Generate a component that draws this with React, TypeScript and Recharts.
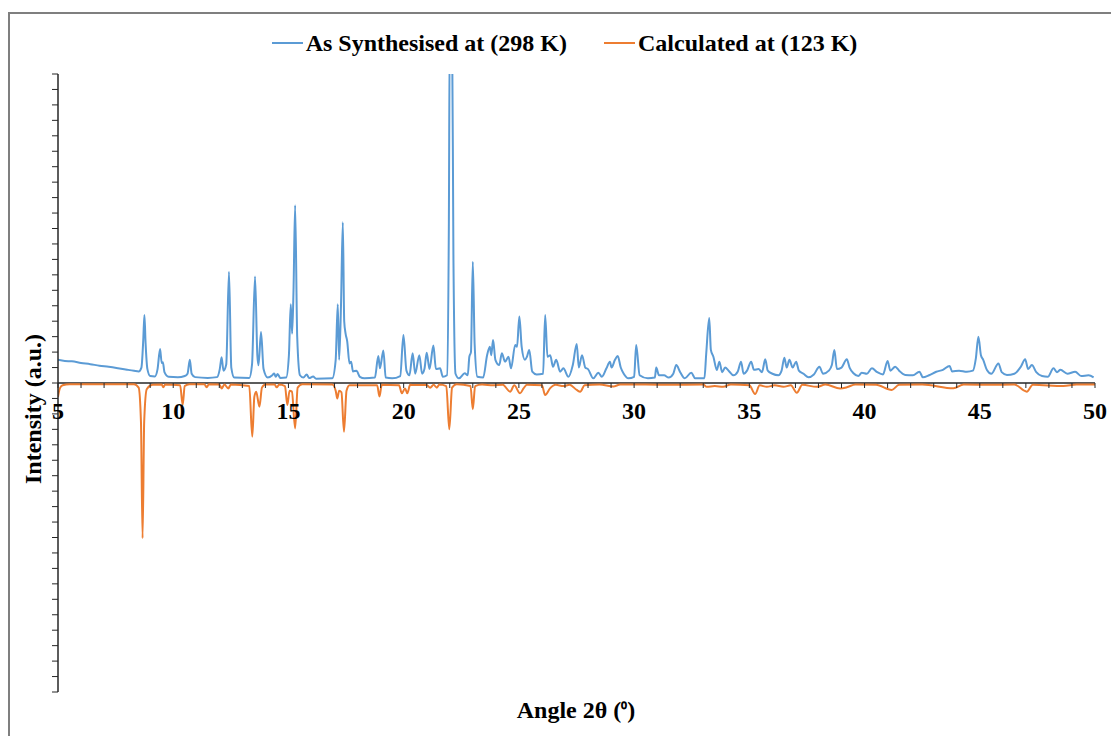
import { LineChart, Line, XAxis, YAxis, ReferenceLine, Legend } from 'recharts';

// As synthesised pattern (298 K)
const synthAngle = [
  5.0, 5.3, 5.6, 6.0, 6.4, 6.8, 7.2, 7.6, 8.0, 8.3, 8.5, 8.62, 8.7, 8.75, 8.8, 8.88, 9.0, 9.2, 9.32, 9.43,
  9.5, 9.55, 9.62, 9.8, 10.2, 10.5, 10.62, 10.72, 10.8, 10.95, 11.5, 11.9, 12.02, 12.1, 12.18, 12.3, 12.42, 12.52, 12.65, 13.3,
  13.42, 13.55, 13.65, 13.7, 13.81, 13.92, 14.1, 14.3, 14.38, 14.45, 14.53, 14.65, 14.9, 15.02, 15.1, 15.16, 15.22, 15.29, 15.38, 15.5,
  15.65, 15.79, 15.9, 16.07, 16.2, 16.9, 17.05, 17.14, 17.2, 17.28, 17.36, 17.42, 17.48, 17.55, 17.65, 17.72, 17.8, 17.95, 18.1, 18.3,
  18.75, 18.9, 18.97, 19.12, 19.22, 19.5, 19.85, 19.99, 20.12, 20.25, 20.39, 20.5, 20.68, 20.8, 20.9, 21.0, 21.12, 21.29, 21.4, 21.58,
  21.7, 21.88, 21.96, 22.0, 22.1, 22.16, 22.25, 22.4, 22.65, 22.78, 22.85, 22.92, 23.0, 23.08, 23.2, 23.45, 23.62, 23.74, 23.8, 23.88,
  23.98, 24.15, 24.26, 24.4, 24.55, 24.66, 24.84, 24.92, 25.02, 25.12, 25.26, 25.35, 25.45, 25.58, 25.77, 26.05, 26.14, 26.24, 26.36, 26.48,
  26.62, 26.79, 26.93, 27.15, 27.34, 27.51, 27.6, 27.74, 27.88, 28.0, 28.23, 28.45, 28.6, 28.8, 28.95, 29.02, 29.17, 29.29, 29.42, 29.55,
  29.75, 30.0, 30.09, 30.24, 30.6, 30.9, 30.96, 31.08, 31.3, 31.5, 31.7, 31.83, 32.0, 32.2, 32.48, 32.65, 33.05, 33.13, 33.26, 33.33,
  33.44, 33.59, 33.7, 33.82, 33.95, 34.1, 34.31, 34.5, 34.64, 34.75, 34.9, 35.08, 35.2, 35.4, 35.55, 35.69, 35.8, 36.0, 36.26, 36.4,
  36.52, 36.62, 36.74, 36.88, 37.03, 37.15, 37.35, 37.57, 37.8, 38.04, 38.2, 38.45, 38.58, 38.69, 38.8, 39.0, 39.23, 39.35, 39.52, 39.73,
  39.88, 40.1, 40.32, 40.55, 40.8, 41.0, 41.12, 41.33, 41.5, 41.76, 42.1, 42.38, 42.53, 42.8, 43.11, 43.4, 43.69, 43.8, 44.1, 44.44,
  44.7, 44.83, 44.94, 45.05, 45.15, 45.31, 45.5, 45.81, 45.95, 46.18, 46.5, 46.78, 46.97, 47.1, 47.26, 47.45, 47.7, 47.95, 48.2, 48.35,
  48.5, 48.8, 49.14, 49.4, 49.72, 49.94,
];
const synthIntensity = [
  1.5, 1.42, 1.4, 1.3, 1.22, 1.12, 1.05, 0.96, 0.86, 0.79, 0.75, 1.0, 2.8, 4.4, 2.6, 0.9, 0.45, 0.42, 0.9, 2.2,
  1.3, 1.35, 0.7, 0.4, 0.37, 0.45, 0.6, 1.5, 0.6, 0.38, 0.33, 0.38, 0.9, 1.66, 0.8, 1.2, 7.2, 1.0, 0.35, 0.32,
  1.2, 6.9, 1.8, 1.15, 3.3, 0.9, 0.35, 0.5, 0.62, 0.4, 0.58, 0.33, 0.35, 1.8, 5.1, 3.2, 6.0, 11.5, 3.0, 0.5,
  0.35, 0.55, 0.32, 0.42, 0.28, 0.3, 1.5, 5.1, 1.5, 5.0, 10.4, 4.0, 3.2, 2.7, 1.27, 1.38, 0.75, 0.8, 0.4, 0.3,
  0.35, 1.75, 0.95, 2.1, 0.35, 0.3, 0.45, 3.1, 0.8, 0.5, 1.92, 0.6, 1.8, 0.6, 0.9, 1.95, 0.9, 2.42, 0.9, 0.95,
  0.4, 0.5, 10.0, 23, 23, 8.0, 0.6, 0.3, 0.63, 0.5, 1.7, 2.0, 7.85, 2.5, 0.4, 0.35, 1.8, 2.35, 1.8, 2.78,
  1.5, 1.16, 1.92, 1.38, 1.7, 0.95, 2.46, 2.35, 4.3, 2.35, 1.5, 1.7, 2.14, 0.73, 0.55, 0.6, 4.4, 1.7, 1.8, 1.05,
  1.5, 0.73, 0.95, 0.4, 1.16, 2.52, 1.0, 1.8, 1.0, 0.9, 0.3, 0.67, 0.4, 0.95, 1.38, 1.0, 1.5, 1.75, 1.0, 0.6,
  0.3, 0.4, 2.46, 0.5, 0.3, 0.35, 1.0, 0.5, 0.5, 0.35, 0.6, 1.16, 0.7, 0.3, 0.67, 0.3, 0.3, 1.92, 4.2, 2.14,
  1.7, 0.84, 1.38, 0.7, 1.0, 0.8, 0.5, 0.75, 1.38, 0.6, 0.8, 1.38, 0.85, 0.9, 0.7, 1.53, 0.8, 0.6, 0.5, 0.8,
  1.64, 1.0, 1.5, 1.0, 1.38, 0.8, 0.6, 0.37, 0.55, 1.05, 0.6, 0.8, 1.16, 2.14, 0.9, 1.0, 1.53, 1.0, 0.63, 0.45,
  0.67, 0.6, 0.95, 0.7, 0.55, 1.42, 0.8, 1.05, 0.8, 0.52, 0.5, 0.73, 0.37, 0.5, 0.73, 0.85, 1.1, 0.75, 0.8, 0.73,
  0.8, 1.6, 3.0, 1.8, 1.5, 0.84, 0.6, 1.27, 0.7, 0.52, 0.6, 1.05, 1.53, 0.9, 1.16, 0.7, 0.45, 0.4, 0.95, 0.7,
  0.85, 0.6, 0.73, 0.45, 0.5, 0.37,
];

// Calculated pattern (123 K), drawn inverted below zero
const calcAngle = [
  5.0, 5.08, 5.2, 5.5, 8.3, 8.5, 8.6, 8.67, 8.74, 8.85, 9.1, 9.5, 9.57, 9.65, 10.3, 10.41, 10.5, 10.7, 11.35, 11.45,
  11.55, 12.0, 12.1, 12.22, 12.39, 12.5, 13.3, 13.43, 13.52, 13.6, 13.74, 13.85, 14.0, 14.4, 14.49, 14.6, 14.85, 14.95, 15.05, 15.15,
  15.29, 15.4, 15.6, 16.9, 17.05, 17.12, 17.2, 17.3, 17.41, 17.52, 17.65, 18.85, 18.95, 19.05, 19.8, 19.92, 20.06, 20.16, 20.28, 20.5,
  21.0, 21.15, 21.3, 21.44, 21.55, 21.85, 21.98, 22.1, 22.3, 22.9, 23.0, 23.1, 23.4, 23.89, 24.3, 24.62, 24.8, 25.05, 25.2, 25.35,
  26.0, 26.14, 26.35, 26.6, 26.93, 27.2, 27.51, 27.66, 27.85, 28.5, 29.1, 29.4, 30.5, 31.5, 33.0, 33.15, 33.5, 33.86, 34.2, 35.0,
  35.25, 35.45, 35.76, 36.1, 36.48, 36.8, 37.06, 37.3, 37.93, 38.3, 38.94, 39.23, 39.6, 40.5, 41.18, 41.5, 42.5, 43.86, 44.3, 45.5,
  46.5, 47.04, 47.3, 48.63, 49.2, 50.0,
];
const calcIntensity = [
  -0.9, -0.35, -0.15, -0.08, -0.08, -0.3, -2.5, -10.05, -2.5, -0.4, -0.12, -0.1, -0.28, -0.1, -0.15, -1.42, -0.2, -0.08, -0.08, -0.28,
  -0.08, -0.1, -0.35, -0.1, -0.35, -0.1, -0.2, -3.47, -0.9, -0.56, -1.53, -0.3, -0.1, -0.1, -0.28, -0.1, -0.2, -1.42, -0.5, -0.56,
  -2.94, -0.3, -0.08, -0.1, -0.5, -1.0, -0.5, -0.6, -3.15, -0.5, -0.15, -0.15, -0.88, -0.12, -0.15, -0.67, -0.35, -0.67, -0.12, -0.13,
  -0.13, -0.3, -0.12, -0.3, -0.1, -0.2, -3.0, -0.3, -0.08, -0.2, -1.7, -0.2, -0.1, -0.15, -0.12, -0.56, -0.15, -0.67, -0.35, -0.12,
  -0.15, -0.78, -0.35, -0.12, -0.2, -0.12, -0.45, -0.56, -0.15, -0.1, -0.22, -0.1, -0.1, -0.12, -0.1, -0.25, -0.2, -0.25, -0.1, -0.15,
  -0.72, -0.15, -0.25, -0.15, -0.25, -0.15, -0.63, -0.12, -0.25, -0.1, -0.35, -0.28, -0.1, -0.12, -0.45, -0.12, -0.1, -0.34, -0.1, -0.12,
  -0.1, -0.56, -0.12, -0.2, -0.1, -0.1,
];

const xTicks = Array.from({ length: 46 }, (_, i) => 5 + i);
const yTicks = Array.from({ length: 41 }, (_, i) => -20 + i);

const BLUE = '#5B9BD5';
const ORANGE = '#ED7D31';
const AXIS = '#262626';
const FONT = '"Liberation Serif", "Times New Roman", serif';
const FONT_SIZE = 24;

const WIDTH = 1111;
const HEIGHT = 736;
const PLOT_TOP = 74;
const PLOT_BOTTOM = 692;
// the category axis sits at zero, half way up the plot
const ZERO_SHIFT = (PLOT_BOTTOM - PLOT_TOP) / 2;

const synthData = synthAngle.map((x, i) => ({ x, y: synthIntensity[i] }));
const calcData = calcAngle.map((x, i) => ({ x, y: calcIntensity[i] }));

function AngleTick({ x, y, payload }: any) {
  const zy = y - ZERO_SHIFT;
  const v = payload.value;
  return (
    <g>
      <line x1={x} y1={zy} x2={x} y2={zy + 5} stroke={AXIS} strokeWidth={1} />
      {v % 5 === 0 && (
        <text x={x} y={zy + 36} textAnchor="middle" fontFamily={FONT} fontWeight="bold" fontSize={FONT_SIZE} fill="#000">
          {v}
        </text>
      )}
    </g>
  );
}

function LegendContent() {
  const item = (color: string, label: string) => (
    <div style={{ display: 'flex', alignItems: 'center' }}>
      <div style={{ width: 31, height: 2, background: color, marginRight: 3 }} />
      <span>{label}</span>
    </div>
  );
  return (
    <div
      style={{
        height: 30,
        display: 'flex',
        justifyContent: 'center',
        alignItems: 'center',
        gap: 37,
        paddingLeft: 18,
        fontFamily: FONT,
        fontWeight: 'bold',
        fontSize: FONT_SIZE,
        color: '#000',
      }}
    >
      {item(BLUE, 'As Synthesised at (298 K)')}
      {item(ORANGE, 'Calculated at (123 K)')}
    </div>
  );
}

export default function App() {
  return (
    <div style={{ position: 'absolute', left: 0, top: 0, width: WIDTH, height: HEIGHT, background: '#fff' }}>
      <div
        style={{
          position: 'absolute',
          left: 8,
          top: 12,
          right: 0,
          bottom: 0,
          borderTop: '2px solid #7f7f7f',
          borderLeft: '2px solid #7f7f7f',
        }}
      />
      <LineChart width={WIDTH} height={HEIGHT} margin={{ top: 44, right: 16, bottom: 14, left: 0 }}>
        <XAxis
          dataKey="x"
          type="number"
          domain={[5, 50]}
          ticks={xTicks}
          interval={0}
          height={30}
          tickSize={0}
          tickMargin={0}
          axisLine={false}
          tickLine={false}
          tick={<AngleTick />}
          allowDataOverflow
          label={{
            value: 'Angle 2θ (⁰)',
            content: () => (
              <text
                x={576}
                y={710}
                textAnchor="middle"
                dominantBaseline="central"
                fontFamily={FONT}
                fontWeight="bold"
                fontSize={FONT_SIZE}
                fill="#000"
              >
                Angle 2θ (<tspan fontSize={17}>⁰</tspan>)
              </text>
            ),
          }}
        />
        <YAxis
          type="number"
          domain={[-20, 20]}
          ticks={yTicks}
          interval={0}
          width={58}
          tickSize={6}
          tickFormatter={() => ''}
          axisLine={{ stroke: AXIS, strokeWidth: 1.5 }}
          tickLine={{ stroke: AXIS }}
          allowDataOverflow
          label={{
            value: 'Intensity (a.u.)',
            content: () => (
              <text
                x={33}
                y={409}
                transform="rotate(-90 33 409)"
                textAnchor="middle"
                dominantBaseline="central"
                fontFamily={FONT}
                fontWeight="bold"
                fontSize={FONT_SIZE}
                fill="#000"
              >
                Intensity (a.u.)
              </text>
            ),
          }}
        />
        <Legend verticalAlign="top" wrapperStyle={{ top: 28, left: 0, width: WIDTH }} content={<LegendContent />} />
        <ReferenceLine y={0} stroke={AXIS} strokeWidth={1.5} />
        <Line
          data={calcData}
          dataKey="y"
          type="monotone"
          stroke={ORANGE}
          strokeWidth={2}
          dot={false}
          isAnimationActive={false}
          name="Calculated at (123 K)"
        />
        <Line
          data={synthData}
          dataKey="y"
          type="monotone"
          stroke={BLUE}
          strokeWidth={2}
          dot={false}
          isAnimationActive={false}
          name="As Synthesised at (298 K)"
        />
      </LineChart>
    </div>
  );
}
